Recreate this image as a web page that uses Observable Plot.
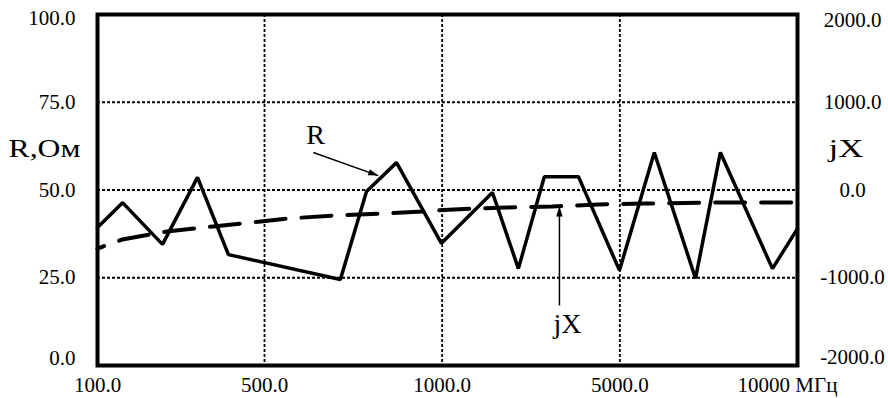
<!DOCTYPE html>
<html>
<head>
<meta charset="utf-8">
<script src="https://cdn.jsdelivr.net/npm/d3@7"></script>
<script src="https://cdn.jsdelivr.net/npm/@observablehq/plot@0.6"></script>
<style>
  html, body { margin: 0; padding: 0; background: #fff; }
</style>
</head>
<body>
<div id="chart"></div>
<script>
// Frequency axis (equally spaced "grid units")
const freqLabels = ["100.0", "500.0", "1000.0", "5000.0", "10000 МГц"];
const freqPos = [0, 0.94, 1.94, 2.94, 3.94];

// Left axis (R, Ом) and right axis (jX)
const rTicks = [0, 25, 50, 75, 100];
const rTickLabels = ["0.0", "25.0", "50.0", "75.0", "100.0"];
const jxTickLabels = ["-2000.0", "-1000.0", "0.0", "1000.0", "2000.0"];

// R series
const rPos = [0, 0.141, 0.366, 0.563, 0.737, 1.367, 1.514, 1.683, 1.936, 2.223, 2.369, 2.515, 2.707, 2.938, 3.134, 3.366, 3.506, 3.799, 3.94];
const rVal = [39.3, 46.4, 34.5, 53.6, 31.6, 24.5, 49.6, 57.8, 34.8, 49.3, 27.6, 53.8, 53.8, 27.1, 60.7, 24.8, 60.7, 27.6, 39.0];

// jX series
const jxPos = [0, 0.14, 0.39, 0.65, 0.92, 1.07, 1.33, 1.59, 1.83, 1.95, 2.12, 2.30, 2.56, 2.82, 3.08, 3.51, 3.94];
const jxVal = [-667, -564, -473, -416, -359, -325, -291, -268, -245, -228, -211, -199, -188, -165, -154, -142, -142];

const rData = rPos.map((u, i) => ({u, r: rVal[i]}));
const jxData = jxPos.map((u, i) => ({u, jx: jxVal[i]}));
const jxToR = v => 50 + v / 40;

const ticks = rTicks.map((v, i) => ({v, left: rTickLabels[i], right: jxTickLabels[i]}));
const xTicks = freqPos.map((u, i) => ({u, label: freqLabels[i]}));

// annotations (data units)
const arrows = [
  {x1: 1.215, y1: 60.7, x2: 1.58, y2: 54.1, rot: 109.5},
  {x1: 2.60, y1: 17.1, x2: 2.60, y2: 45.3, rot: 0}
];
const notes = [
  {u: 1.227, r: 65.7, t: "R"},
  {u: 2.645, r: 11.7, t: "jX"}
];

const arrowHead = {
  draw(ctx, size) {
    const l = Math.sqrt(size / Math.PI);
    ctx.moveTo(0, 0);
    ctx.lineTo(-0.65 * l, 2 * l);
    ctx.lineTo(0.65 * l, 2 * l);
    ctx.closePath();
  }
};

const font = "'Liberation Serif', 'Times New Roman', serif";
const midTicks = ticks.filter(d => d.v > 0 && d.v < 100);
const topTicks = ticks.filter(d => d.v === 100);
const botTicks = ticks.filter(d => d.v === 0);

const leftLabels = (data, dy) => Plot.text(data, {y: "v", text: "left", frameAnchor: "left", dx: -22, dy, textAnchor: "end", lineAnchor: "middle", fontSize: 21, fill: "black"});
const rightLabels = (data, dy) => Plot.text(data, {y: "v", text: "right", frameAnchor: "right", dx: 55, dy, textAnchor: "middle", lineAnchor: "middle", fontSize: 21, fill: "black"});

const chart = Plot.plot({
  width: 888,
  height: 398,
  marginLeft: 97,
  marginRight: 91,
  marginTop: 14,
  marginBottom: 33,
  style: {fontFamily: font, background: "white", color: "black"},
  x: {domain: [0, 3.94], axis: null},
  y: {domain: [0, 100], axis: null},
  marks: [
    Plot.ruleY(midTicks, {y: "v", stroke: "black", strokeWidth: 1.8, strokeDasharray: "3,2"}),
    Plot.ruleX(xTicks.slice(1, 4), {x: "u", stroke: "black", strokeWidth: 1.8, strokeDasharray: "3,2"}),
    Plot.line(jxData, {x: "u", y: d => jxToR(d.jx), stroke: "black", strokeWidth: 4, strokeDasharray: "30,16", strokeDashoffset: 23}),
    Plot.line(rData, {x: "u", y: "r", stroke: "black", strokeWidth: 3.5, strokeLinejoin: "miter"}),
    Plot.frame({stroke: "black", strokeWidth: 4}),
    Plot.link(arrows, {x1: "x1", y1: "y1", x2: "x2", y2: "y2", stroke: "black", strokeWidth: 1.5}),
    Plot.dot(arrows, {x: "x2", y: "y2", rotate: "rot", symbol: arrowHead, r: 5, fill: "black", stroke: "none"}),
    Plot.text(notes, {x: "u", y: "r", text: "t", fontSize: 28, lineAnchor: "middle", fill: "black"}),
    leftLabels(midTicks, 0), leftLabels(topTicks, 4), leftLabels(botTicks, -7),
    rightLabels(midTicks, 0), rightLabels(topTicks, 6), rightLabels(botTicks, -8),
    Plot.text(xTicks.slice(0, 4), {x: "u", text: "label", frameAnchor: "bottom", dy: 19.5, lineAnchor: "middle", fontSize: 21, fill: "black"}),
    Plot.text(xTicks.slice(4), {x: "u", text: "label", frameAnchor: "bottom", dy: 19.5, dx: -10, lineAnchor: "middle", fontSize: 21, fill: "black"}),
    Plot.text(["R,Ом"], {y: 61.9, text: d => d, frameAnchor: "left", dx: -89, textAnchor: "start", lineAnchor: "middle", fontSize: 26, fill: "black"}),
    Plot.text(["jX"], {y: 61.9, text: d => d, frameAnchor: "right", dx: 31, textAnchor: "start", lineAnchor: "middle", fontSize: 26, fill: "black"})
  ]
});

document.getElementById("chart").appendChild(chart);

// stretch axis titles horizontally as in the original
d3.select(chart).selectAll("g").filter(function() { return this.getAttribute("font-size") === "26"; })
  .selectAll("text").each(function() {
    const t = this.textContent;
    const len = t === "R,Ом" ? 72 : t === "jX" ? 35 : null;
    if (len) { this.setAttribute("textLength", len); this.setAttribute("lengthAdjust", "spacingAndGlyphs"); }
  });
</script>
</body>
</html>
